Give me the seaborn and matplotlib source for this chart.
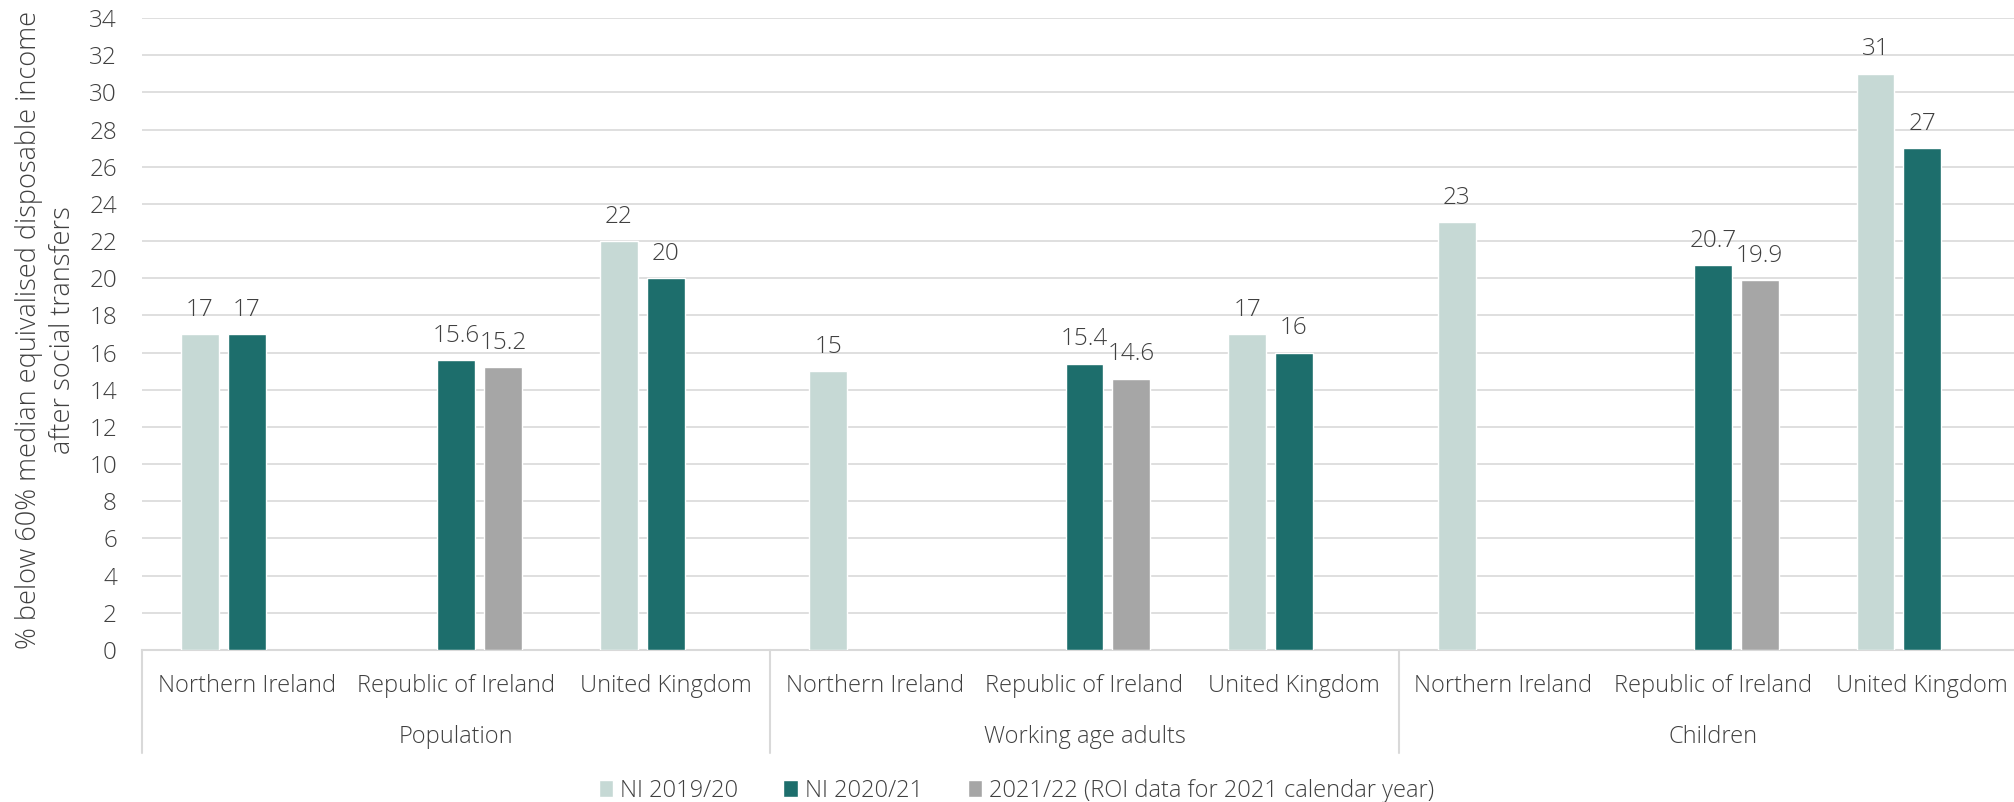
import pandas as pd
import matplotlib
matplotlib.use("Agg")
import matplotlib.pyplot as plt
import matplotlib.patches as mpatches
import seaborn as sns

# data
groups = ["Population", "Working age adults", "Children"]
regions = ["Northern Ireland", "Republic of Ireland", "United Kingdom"]
series = ["NI 2019/20", "NI 2020/21", "2021/22 (ROI data for 2021 calendar year)"]

ni_2019 = [17, None, 22, 15, None, 17, 23, None, 31]
ni_2020 = [17, 15.6, 20, None, 15.4, 16, None, 20.7, 27]
roi_2021 = [None, 15.2, None, None, 14.6, None, None, 19.9, None]

colors = ["#C6D9D5", "#1D6E6C", "#A6A6A6"]
text_color = "#404040"
grid_color = "#D9D9D9"

sns.set_theme(style="white")
plt.rcParams["font.family"] = ["Open Sans", "DejaVu Sans"]
plt.rcParams["font.weight"] = "light"
plt.rcParams["text.color"] = text_color

keys = [f"{g}|{r}" for g in groups for r in regions]
rows = []
for s, vals in zip(series, [ni_2019, ni_2020, roi_2021]):
    for k, v in zip(keys, vals):
        if v is not None:
            rows.append([k, s, v])
df = pd.DataFrame(rows, columns=["key", "series", "value"])

fig = plt.figure(figsize=(20.15, 8.02), dpi=100)
ax = fig.add_axes([142 / 2015, 1 - 650 / 802, 1885 / 2015, 632 / 802])

sns.barplot(data=df, x="key", y="value", hue="series", order=keys, hue_order=series,
            palette=colors, saturation=1, width=0.67, gap=0.19, dodge=True,
            legend=False, ax=ax, zorder=3)

for cont in ax.containers:
    ax.bar_label(cont, fmt="%g", padding=9, fontsize=17.5, color=text_color, fontweight="light")

ax.set_xlim(-0.5, 8.5)
ax.set_ylim(0, 34)
ax.set_yticks(range(0, 35, 2))
ax.yaxis.grid(True, color=grid_color, linewidth=1.2, zorder=0)
ax.set_axisbelow(True)
for side in ["top", "right", "left"]:
    ax.spines[side].set_visible(False)
ax.spines["bottom"].set_color(grid_color)
ax.spines["bottom"].set_linewidth(1.5)

ax.set_xticks(range(len(keys)))
ax.set_xticklabels(regions * len(groups))
ax.tick_params(axis="x", length=0, pad=17, labelsize=17, labelcolor=text_color)
ax.tick_params(axis="y", length=0, pad=18, labelsize=17.5, labelcolor=text_color)
for lbl in ax.get_xticklabels() + ax.get_yticklabels():
    lbl.set_fontweight("light")
ax.set_xlabel("")
ax.set_ylabel("")

# group labels and separators for the two-level category axis
trans = matplotlib.transforms.blended_transform_factory(ax.transData, ax.transAxes)
for i, g in enumerate(groups):
    ax.text(i * 3 + 1, -0.1377, g, transform=trans, ha="center", va="center",
            fontsize=17, color=text_color, fontweight="light")
for xs in [-0.5, 2.5, 5.5, 8.5]:
    ax.plot([xs, xs], [0, -0.163], transform=trans, color=grid_color,
            linewidth=1.5, clip_on=False)

fig.text(46 / 2015, 1 - 330 / 802,
         "% below 60% median equivalised disposable income\nafter social transfers",
         rotation=90, ha="center", va="center", fontsize=19.5, color=text_color,
         fontweight="light", linespacing=1.3)

handles = [mpatches.Patch(facecolor=c, label=s) for c, s in zip(colors, series)]
fig.legend(handles=handles, loc="center", bbox_to_anchor=(0.5045, 1 - 791 / 802), ncol=3,
           frameon=False, fontsize=17, handlelength=0.6, handleheight=0.75,
           handletextpad=0.3, columnspacing=1.9, labelcolor=text_color,
           prop={"weight": "light", "size": 17})

fig.savefig("out.png", dpi=100)
